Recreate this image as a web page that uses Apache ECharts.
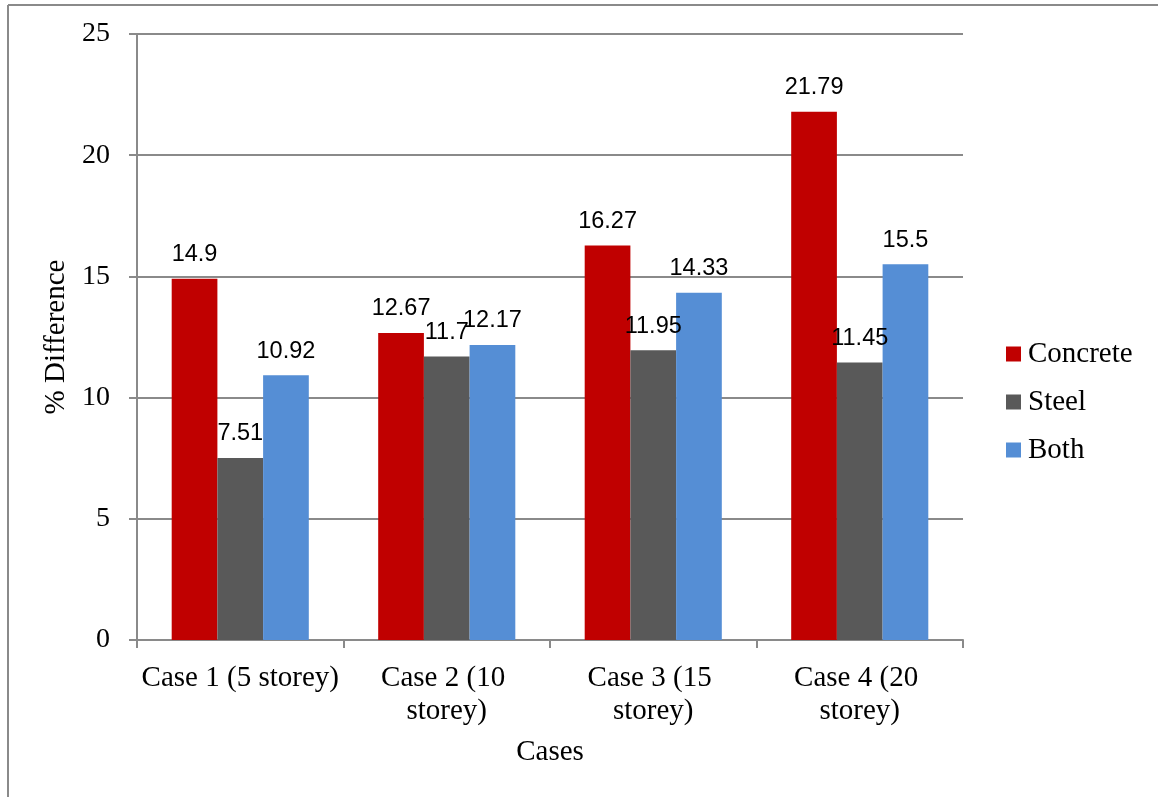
<!DOCTYPE html>
<html>
<head>
<meta charset="utf-8">
<title>% Difference by case</title>
<script src="https://cdn.jsdelivr.net/npm/echarts@6/dist/echarts.min.js"></script>
<style>
  html, body { margin: 0; padding: 0; background: #fff; }
  #chart { width: 1158px; height: 797px; }
</style>
</head>
<body>
<div id="chart"></div>
<script>
// Categories and series values
const cases = ['Case 1 (5 storey)', 'Case 2 (10 storey)', 'Case 3 (15 storey)', 'Case 4 (20 storey)'];
const concrete = [14.9, 12.67, 16.27, 21.79];
const steel = [7.51, 11.7, 11.95, 11.45];
const both = [10.92, 12.17, 14.33, 15.5];
const yTicks = [0, 5, 10, 15, 20, 25];

const serif = '"Liberation Serif", "Times New Roman", serif';
const sans = '"Liberation Sans", Arial, sans-serif';
const lineGray = '#8a8a8a';

const chart = echarts.init(document.getElementById('chart'), null, { renderer: 'canvas' });

function barSeries(name, data, color) {
  return {
    name: name,
    type: 'bar',
    data: data,
    barGap: '0%',
    barCategoryGap: '33.6%',
    itemStyle: { color: color },
    label: {
      show: true,
      position: 'top',
      distance: 12,
      fontFamily: sans,
      fontSize: 23.5,
      color: '#000'
    },
    emphasis: { disabled: true }
  };
}

chart.setOption({
  animation: false,
  backgroundColor: '#fff',
  grid: { left: 137, right: 195, top: 34, bottom: 157, containLabel: false },
  legend: {
    orient: 'vertical',
    left: 1006,
    top: 339,
    padding: 0,
    icon: 'rect',
    itemWidth: 15,
    itemHeight: 15,
    itemGap: 18,
    textStyle: { fontFamily: serif, fontSize: 29, color: '#000', lineHeight: 30, padding: [0, 0, 0, 2] },
    data: ['Concrete', 'Steel', 'Both']
  },
  xAxis: {
    type: 'category',
    data: cases,
    name: 'Cases',
    nameLocation: 'middle',
    nameGap: 98,
    nameTextStyle: { fontFamily: serif, fontSize: 29, color: '#000' },
    axisLine: { show: true, lineStyle: { color: lineGray, width: 2 } },
    axisTick: { show: true, length: 8, lineStyle: { color: lineGray, width: 2 } },
    axisLabel: {
      fontFamily: serif,
      fontSize: 29,
      color: '#000',
      margin: 22,
      lineHeight: 33,
      width: 203,
      overflow: 'break',
      interval: 0
    }
  },
  yAxis: {
    type: 'value',
    min: 0,
    max: 25,
    interval: 5,
    name: '% Difference',
    nameLocation: 'middle',
    nameGap: 64,
    nameRotate: 90,
    nameTextStyle: { fontFamily: serif, fontSize: 29, color: '#000' },
    axisLine: { show: true, lineStyle: { color: lineGray, width: 2 } },
    axisTick: { show: true, length: 8, lineStyle: { color: lineGray, width: 2 } },
    axisLabel: {
      fontFamily: serif,
      fontSize: 28,
      color: '#000',
      margin: 27,
      formatter: function (v) { return yTicks.indexOf(v) >= 0 ? String(v) : ''; }
    },
    splitLine: { show: true, lineStyle: { color: lineGray, width: 2 } }
  },
  graphic: [
    { type: 'line', shape: { x1: 8, y1: 5, x2: 1158, y2: 5 }, style: { stroke: lineGray, lineWidth: 2 } },
    { type: 'line', shape: { x1: 8, y1: 5, x2: 8, y2: 797 }, style: { stroke: lineGray, lineWidth: 2 } }
  ],
  series: [
    barSeries('Concrete', concrete, '#c00000'),
    barSeries('Steel', steel, '#595959'),
    barSeries('Both', both, '#558ed5')
  ]
});
</script>
</body>
</html>
